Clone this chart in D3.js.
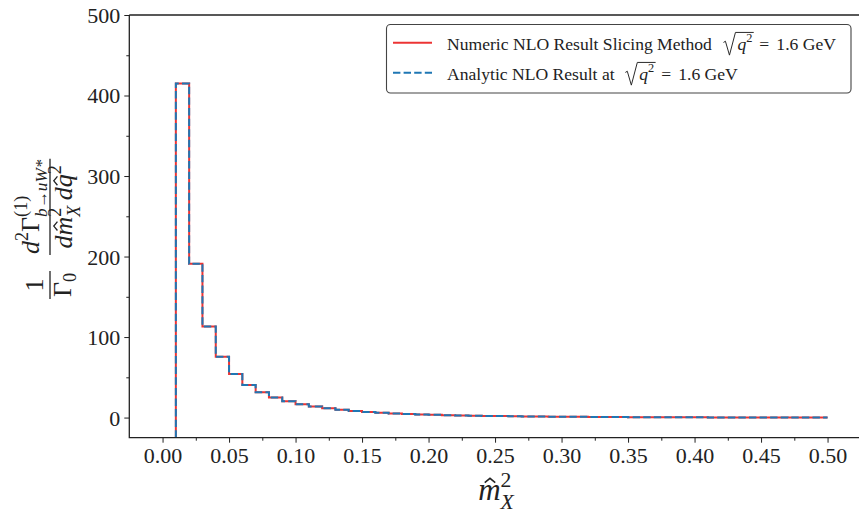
<!DOCTYPE html>
<html><head><meta charset="utf-8">
<script src="https://cdn.jsdelivr.net/npm/d3@7"></script>
<style>
body{margin:0;background:#fff}
svg{display:block}
text{font-family:"Liberation Serif","Times New Roman",serif;fill:#222}
</style>
</head><body>
<svg id="c" width="859" height="514"></svg>
<script>
// ---- data ----
const binEdges = [0.01,0.02,0.03,0.04,0.05,0.06,0.07,0.08,0.09,0.10,
  0.11,0.12,0.13,0.14,0.15,0.16,0.17,0.18,0.19,0.20,
  0.21,0.22,0.23,0.24,0.25,0.26,0.27,0.28,0.29,0.30,
  0.31,0.32,0.33,0.34,0.35,0.36,0.37,0.38,0.39,0.40,
  0.41,0.42,0.43,0.44,0.45,0.46,0.47,0.48,0.49,0.50];
const numericValues = [415,191,113,75.5,54,40.5,31.5,25,20.3,16.6,
  13.8,11.5,9.7,8.2,7.0,6.0,5.2,4.5,3.9,3.4,
  3.0,2.6,2.3,2.0,1.8,1.6,1.4,1.25,1.1,0.98,
  0.87,0.77,0.68,0.6,0.53,0.47,0.41,0.36,0.31,0.27,
  0.23,0.2,0.17,0.14,0.11,0.09,0.07,0.05,0.03];
const analyticValues = [415,191,113,75.5,54,40.5,31.5,25,20.3,16.6,
  13.8,11.5,9.7,8.2,7.0,6.0,5.2,4.5,3.9,3.4,
  3.0,2.6,2.3,2.0,1.8,1.6,1.4,1.25,1.1,0.98,
  0.87,0.77,0.68,0.6,0.53,0.47,0.41,0.36,0.31,0.27,
  0.23,0.2,0.17,0.14,0.11,0.09,0.07,0.05,0.03];
const xTicks = [0,0.05,0.10,0.15,0.20,0.25,0.30,0.35,0.40,0.45,0.50];
const xMinorTicks = [0.025,0.075,0.125,0.175,0.225,0.275,0.325,0.375,0.425,0.475,0.525];
const yTicks = [0,100,200,300,400,500];
const yMinorTicks = [50,150,250,350,450];
const seriesLabels = ["Numeric NLO Result Slicing Method", "Analytic NLO Result at"];

// ---- layout ----
const L = 129.3, T = 15, B = 437.7;
const x = d3.scaleLinear().domain([-0.025, 0.525]).range([L, L + 0.55*1330]);
const y = d3.scaleLinear().domain([-25, 500]).range([B, T]);
const R = x.range()[1];
const RED = "#ec3434", BLUE = "#1f77b4";

const svg = d3.select("#c");
svg.append("defs").append("clipPath").attr("id","clip")
  .append("rect").attr("x",L).attr("y",T).attr("width",R-L).attr("height",B-T);

// ---- steps ----
function stepPoints(vals){
  const pts = [{x: binEdges[0], y: y.domain()[0]}];
  binEdges.forEach((e,i)=>{ pts.push({x:e, y: vals[Math.min(i, vals.length-1)]}); });
  return pts;
}
const line = d3.line().x(d=>x(d.x)).y(d=>y(d.y)).curve(d3.curveStepAfter);
const plot = svg.append("g").attr("clip-path","url(#clip)");
plot.append("path").attr("d", line(stepPoints(numericValues)))
  .attr("fill","none").attr("stroke",RED).attr("stroke-width",2);
plot.append("path").attr("d", line(stepPoints(analyticValues)))
  .attr("fill","none").attr("stroke",BLUE).attr("stroke-width",2)
  .attr("stroke-dasharray","7.4,3.2");

// ---- axes ----
const axX = d3.axisBottom(x).tickValues(xTicks).tickFormat(d3.format(".2f")).tickSize(5).tickPadding(4);
const gx = svg.append("g").attr("transform",`translate(0,${B})`).call(axX);
const axXm = d3.axisBottom(x).tickValues(xMinorTicks).tickFormat("").tickSize(3);
svg.append("g").attr("transform",`translate(0,${B})`).call(axXm);
const axY = d3.axisLeft(y).tickValues(yTicks).tickSize(5).tickPadding(4);
const gy = svg.append("g").attr("transform",`translate(${L},0)`).call(axY);
const axYm = d3.axisLeft(y).tickValues(yMinorTicks).tickFormat("").tickSize(3);
svg.append("g").attr("transform",`translate(${L},0)`).call(axYm);
svg.selectAll(".domain").remove();
svg.selectAll(".tick line").attr("stroke","#222").attr("stroke-width",1);
svg.selectAll(".tick text").style("font-family","'Liberation Serif',serif").style("font-size","22px").attr("fill","#222");
gy.selectAll(".tick text").attr("dy","0.34em");
gx.selectAll(".tick text").attr("dy","0.72em");
// spines
svg.append("path").attr("d",`M${L},${T}V${B}H${R+2}M${L},${T}H${R+2}`)
  .attr("fill","none").attr("stroke","#222").attr("stroke-width",1.3);

// ---- math helpers ----
function runMath(parent, pieces, size){
  const g = parent.append("g");
  let cx = 0;
  function put(p, x0){
    const fs = (p.scale||1)*size;
    const t = g.append("text").attr("x",x0).attr("y",(p.dy||0)*size)
      .style("font-size",fs+"px").style("font-style",p.italic?"italic":"normal")
      .attr("xml:space","preserve").text(p.text);
    const w = t.node().getComputedTextLength() + (p.pad||0)*fs;
    if (p.hat){
      const cxh = x0 + w/2 + (p.hatdx||0)*fs, top = (p.dy||0)*size - 0.56*fs;
      g.append("path").attr("d",`M${cxh-0.17*fs},${top}L${cxh},${top-0.14*fs}L${cxh+0.17*fs},${top}`)
        .attr("fill","none").attr("stroke","#222").attr("stroke-width",0.05*fs);
    }
    return w;
  }
  for (const p of pieces){
    if (p.space){ cx += p.space*size; continue; }
    if (p.stack){
      let w = 0;
      for (const s of p.stack) w = Math.max(w, put(s, cx));
      cx += w;
    } else if (p.sqrt){
      const fs = size;
      const sx = cx;
      const rw = 0.85*fs;
      cx += rw;
      for (const s of p.sqrt) cx += put(s, cx);
      const top = -0.97*fs;
      g.append("path").attr("d",
        `M${sx+0.06*fs},${-0.4*fs}L${sx+0.17*fs},${-0.47*fs}L${sx+0.4*fs},${0.32*fs}L${sx+0.74*fs},${top}H${cx+0.08*fs}`)
        .attr("fill","none").attr("stroke","#222").attr("stroke-width",0.055*fs).attr("stroke-linejoin","miter");
      cx += 0.1*fs;
    } else {
      cx += put(p, cx);
    }
  }
  return {g, w: cx};
}

// ---- legend ----
const lg = svg.append("g");
lg.append("rect").attr("x",386.5).attr("y",24.5).attr("width",464.5).attr("height",68.5)
  .attr("rx",4).attr("fill","#fff").attr("stroke","#444").attr("stroke-width",1.1);
lg.append("line").attr("x1",393).attr("x2",432).attr("y1",42.7).attr("y2",42.7)
  .attr("stroke",RED).attr("stroke-width",2);
lg.append("line").attr("x1",393).attr("x2",432).attr("y1",72.7).attr("y2",72.7)
  .attr("stroke",BLUE).attr("stroke-width",2).attr("stroke-dasharray","7.4,3.2");
const LS = 17.6;
const sq = [{text:"q",italic:true},{text:"2",scale:0.7,dy:-0.45}];
const eq = [{space:0.3},{text:"="},{space:0.4},{text:"1.6 GeV"}];
const r1 = runMath(lg, [{text:seriesLabels[0]},{space:0.6},{sqrt:sq}].concat(eq), LS);
r1.g.attr("transform","translate(447,49.5)");
const r2 = runMath(lg, [{text:seriesLabels[1]},{space:0.55},{sqrt:sq}].concat(eq), LS);
r2.g.attr("transform","translate(447,79.5)");

// ---- x label ----
const XS = 31;
const xl = runMath(svg, [{text:"m",italic:true,hat:true,hatdx:0.02},
  {stack:[{text:"2",scale:0.7,dy:-0.42},{text:"X",italic:true,scale:0.7,dy:0.3}]}], XS);
xl.g.attr("transform",`translate(${496 - xl.w/2},500)`);

// ---- y label ----
const YS = 26;
const yg = svg.append("g").attr("transform","translate(50,228) rotate(-90)");
// 1/Gamma_0
const f1n = runMath(yg, [{text:"1"}], YS);
const f1d = runMath(yg, [{text:"Γ"},{text:"0",scale:0.7,dy:0.2}], YS);
const f1w = Math.max(f1n.w, f1d.w) + 4;
const f1x = -71;
f1n.g.attr("transform",`translate(${f1x + (f1w-f1n.w)/2},-7)`);
f1d.g.attr("transform",`translate(${f1x + (f1w-f1d.w)/2},21)`);
yg.append("line").attr("x1",f1x).attr("x2",f1x+f1w).attr("y1",0).attr("y2",0).attr("stroke","#222").attr("stroke-width",1.3);
// main fraction
const mn = runMath(yg, [{text:"d",italic:true},{text:"2",scale:0.7,dy:-0.42},{text:"Γ"},
  {stack:[{text:"(1)",scale:0.7,dy:-0.45},{text:"b→uW*",italic:true,scale:0.66,dy:0.3}]}], YS);
const md = runMath(yg, [{text:"d",italic:true},{text:"m",italic:true,hat:true},
  {stack:[{text:"2",scale:0.7,dy:-0.42},{text:"X",italic:true,scale:0.7,dy:0.3}]},
  {space:0.2},{text:"d",italic:true},{text:"q",italic:true,hat:true},{text:"2",scale:0.7,dy:-0.42}], YS);
const mw = Math.max(mn.w, md.w) + 2;
const mx = -27;
mn.g.attr("transform",`translate(${mx + (mw-mn.w)/2},-11)`);
md.g.attr("transform",`translate(${mx + (mw-md.w)/2},22)`);
yg.append("line").attr("x1",mx).attr("x2",mx+mw).attr("y1",0).attr("y2",0).attr("stroke","#222").attr("stroke-width",1.3);
</script>
</body></html>
